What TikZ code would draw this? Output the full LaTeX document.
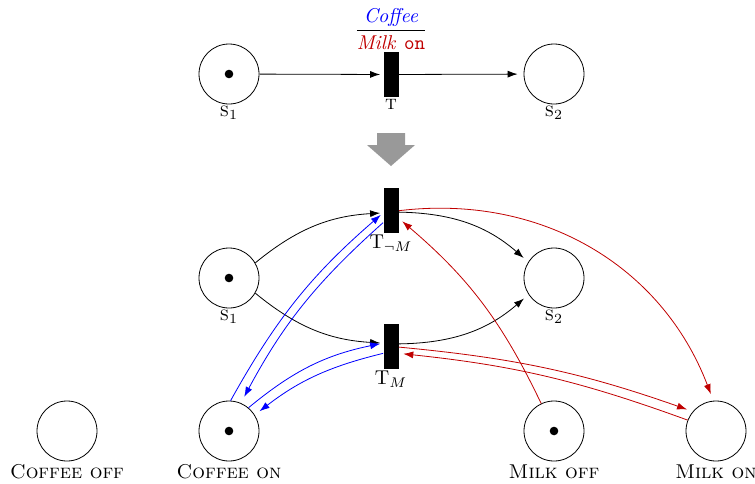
\documentclass[tikz,border=0pt]{standalone}
\usepackage{amsmath}
\usetikzlibrary{arrows.meta}
\definecolor{myred}{RGB}{192,0,0}
\begin{document}
\begin{tikzpicture}[x=0.5pt,y=-0.5pt,
  place/.style={circle,draw,minimum size=30pt,inner sep=0pt},
  trans/.style={rectangle,fill=black,minimum width=7.5pt,minimum height=22.5pt,inner sep=0pt},
  token/.style={circle,fill=black,minimum size=4.3pt,inner sep=0pt},
  lab/.style={anchor=north,inner sep=1pt},
  arc/.style={-{Latex[length=5pt,width=3.5pt]}},
  toplace/.style={arc,shorten >=3pt},
  totrans/.style={arc,shorten >=1.5pt},
  blu/.style={blue},
  rd/.style={myred}]
\useasboundingbox (0,0) rectangle (755,483);

% ---------- top net ----------
\node[place] (s1t) at (229,74) {};
\node[token] (k1t) at (229,74) {};
\node[trans] (tt) at (391,74.5) {};
\node[place] (s2t) at (554,74) {};
\node[lab] (ls1t) at (229,104) {\textsc{s}$_1$};
\node[lab] (ltt) at (391,97) {\textsc{t}};
\node[lab] (ls2t) at (554,104) {\textsc{s}$_2$};
\node[anchor=south,inner sep=1pt] (fr) at (391,52)
  {$\dfrac{\textcolor{blue}{\textit{Coffee}}}{\textcolor{myred}{\textit{Milk}\hspace{4.5pt}\texttt{on}}}$};
\draw[totrans] (s1t) -- (tt);
\draw[toplace] (tt) -- (s2t);

% ---------- big arrow ----------
\fill[black!40] (377,133) -- (405,133) -- (405,145) -- (415,145) -- (391,166) -- (367,145) -- (377,145) -- cycle;

% ---------- bottom net ----------
\node[place] (s1b) at (229,278) {};
\node[token] (k1b) at (229,278) {};
\node[place] (s2b) at (554,278) {};
\node[trans] (tnm) at (391,210) {};
\node[trans] (tm) at (391,346) {};
\node[lab] (ls1b) at (229,308) {\textsc{s}$_1$};
\node[lab] (ls2b) at (554,308) {\textsc{s}$_2$};
\node[lab] (ltnm) at (391,233) {T$_{\neg M}$};
\node[lab] (ltm) at (391,369) {T$_{M}$};

\node[place] (coff) at (67,431) {};
\node[place] (con) at (229,431) {};
\node[token] (kcon) at (229,431) {};
\node[place] (moff) at (554,431) {};
\node[token] (kmoff) at (554,431) {};
\node[place] (mon) at (716,431) {};
\node[lab] (lcoff) at (67,462) {\textsc{Coffee off}};
\node[lab] (lcon) at (229,462) {\textsc{Coffee on}};
\node[lab] (lmoff) at (554,462) {\textsc{Milk off}};
\node[lab] (lmon) at (716,462) {\textsc{Milk on}};

% black arcs
\draw[totrans] (s1b.30) to[bend left=18] (tnm.200);
\draw[totrans] (s1b.-30) to[bend right=18] (tm.160);
\draw[toplace] (tnm.-15) to[bend left=20] (s2b.148);
\draw[toplace] (tm.15) to[bend right=20] (s2b.213);

% blue arcs
\draw[totrans,blu] (con.87) to[bend left=10] (tnm.200);
\draw[toplace,blu,shorten >=3.5pt] (tnm.238) to[bend right=10] (con.67);
\draw[totrans,blu] (con.50) to[bend left=14] (tm.160);
\draw[toplace,blu] (tm.223) to[bend right=12] (con.32);

% red arcs
\draw[totrans,rd,shorten >=2.2pt] (moff.115) to[bend right=12] (tnm.313);
\draw[toplace,rd,shorten >=3.5pt] (tnm.-5) to[bend left=38] (mon.95);
\draw[toplace,rd] (tm.-8) to[bend left=7] (mon.140);
\draw[totrans,rd,shorten >=2.2pt] (mon.159) to[bend right=7] (tm.-43);
\end{tikzpicture}
\end{document}
